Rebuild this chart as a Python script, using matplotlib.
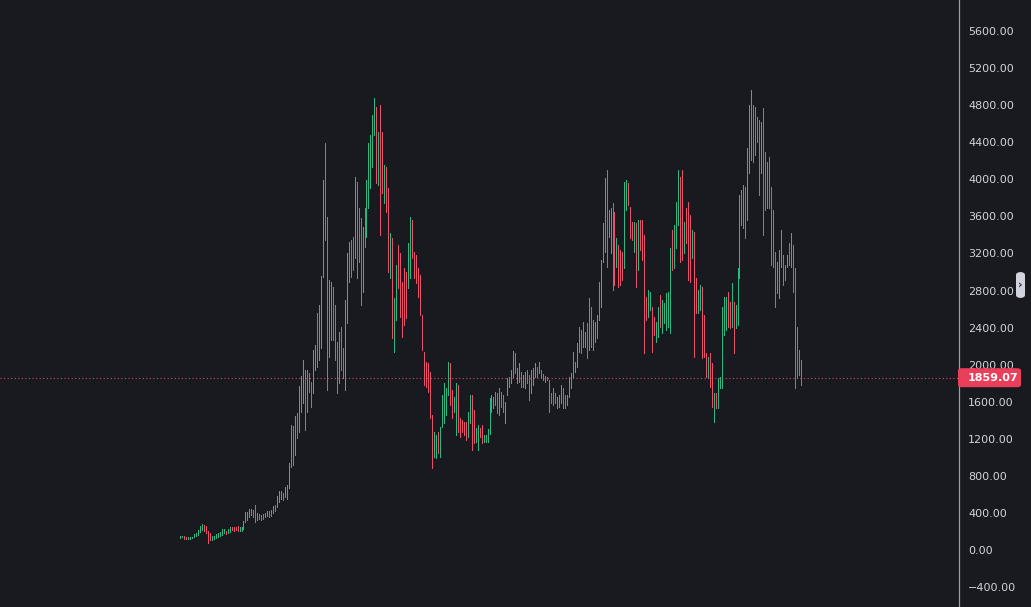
import numpy as np
import matplotlib
matplotlib.use("Agg")
import matplotlib.pyplot as plt
from matplotlib.patches import FancyBboxPatch

# ---------------- data ----------------
highs = [
    151,151,151,144,137,140,144,169,187,216, 259,281,266,259,209,187,151,151,173,187,
    198,223,227,209,223,252,252,252,248,259, 245,245,317,410,410,446,446,432,486,396,
    388,381,388,403,424,417,432,475,486,583, 633,640,611,683,
    701,935,1349,1333,1446,1482,1770,1877,2050,1942, 1942,1906,1816,2158,2212,2561,2644,2956,3992,4388,
    3597,2913,2895,2841,2644,2248,2356,2410,2176,2698, 3201,3327,3345,3381,4028,3974,3687,3579,3489,3687,
    3992,4388,4478,4694,4874,4784,4514,4802,4514,
    4154,4136,3902,3417,3363,2715,3075,3291,3201,2895, 3039,3003,3309,3597,3561,3219,3183,3039,2967,2536,
    2140,2032,2014,1924,1457,1277,1241,1277,1331,1672, 1798,1744,2032,2014,1726,1654,1798,1780,1421,1403,
    1385,1385,1493,1672,1672,1511,1313,1349,1313,1349, 1241,1241,1310,
    1637,1672,1654,1708,1690,1744,1708,1672,1600,1852, 1870,1942,2147,2122,1960,2014,1924,1888,1924,1942,
    1888,1942,1960,2014,1978,2032,1942,1895,1881,1870, 1834,1690,1744,1690,1654,1672,1780,1744,1672,1672,
    1870,1906,2140,2032,2230,2410,2374,2464,2356,2446, 2715,
    2626,2482,2464,2536,2895,3129,3525,4010,4100,3669, 3687,3741,3651,3363,3291,3237,3219,3974,3992,3956,
    3705,3543,3543,3525,3561,3561,3561,3399,2733,2805, 2787,2626,2518,2464,2626,2751,2698,2662,2769,2787,
    3255,3453,3507,3759,4100,4028,4100,3543,3687,3759, 3615,
    3453,3435,2931,2805,2859,2841,2536,2122,2086,2122, 2014,1690,1690,1852,1870,2626,2733,2733,2787,2680,
    2877,2680,2644,3039,3831,3885,3938,3920,4334,4802, 4963,4802,4784,4676,4640,4622,4766,4298,4190,4244,
    3920,3669,3219,3111,3237,3453,3183,3075,3183,3309, 3417,3291,3039,2410,2158,2050,
]
lows = [
    126,137,122,115,122,122,130,137,151,162, 194,216,209,187,79,108,108,115,126,144,
    151,165,180,173,180,194,216,209,216,209, 209,209,223,302,324,352,374,360,306,324,
    338,324,338,352,367,352,367,396,424,468, 522,554,540,576,
    547,665,899,917,1025,1205,1277,1493,1583,1295, 1493,1708,1547,1690,1942,1978,2050,2176,2949,3345,
    1726,2086,2266,2266,2050,1690,1798,1942,1852,1726, 2446,2895,2949,3021,3147,2931,3111,2644,2787,3273,
    3381,3687,3902,4136,4478,3956,3938,3399,3849,
    3741,3651,3003,2931,2284,2140,2482,2823,2518,2302, 2428,2500,2823,2931,3147,2931,2877,2733,2536,2158,
    1780,1762,1708,1420,881,1007,989,1043,1007,1331, 1367,1457,1672,1565,1421,1493,1241,1277,1223,1277,
    1241,1187,1223,1367,1079,1151,1169,1079,1223,1151, 1169,1169,1160,
    1250,1493,1529,1565,1475,1457,1547,1493,1374,1672, 1762,1798,1870,1906,1798,1816,1762,1762,1744,1798,
    1619,1691,1780,1870,1870,1906,1870,1834,1816,1834, 1493,1582,1565,1582,1529,1547,1582,1529,1529,1565,
    1654,1744,1870,1924,1978,2140,2122,2194,2194,2068, 2158,
    2194,2158,2248,2284,2482,2626,3111,3219,3057,3381, 3201,2805,2859,3057,2841,2859,2913,3039,3669,3723,
    3363,3345,3219,2841,3021,3237,3129,2122,2482,2518, 2590,2140,2320,2248,2302,2410,2338,2446,2374,2410,
    2338,3021,3039,3255,3507,3111,3129,3201,3309,2913, 2895,
    3147,2086,2554,2554,2590,2068,2086,1870,1852,1762, 1547,1385,1529,1529,1744,1744,2320,2374,2410,2392,
    2410,2122,2392,2428,2931,3507,3471,3363,3560,4064, 4208,4190,4262,4406,3831,4064,3399,3669,3687,3687,
    3075,3057,2626,2769,2715,3057,2859,2913,3057,3075, 3057,2787,1744,1870,1888,1780,
]
direction = list(
    "GGRRGGGGGG" "GGRRR" "RGGGG" "GGGRG" "GRRRR" "GGGGG" "GGRRG" "RRRGG" "RGGRG" "GGRG"
    "GGGRGRGGGR" "GRRGGRGGGR" "RGGRRRGRRG" "GGRRGRRRGR" "GGGGGRGRR"
    "GRRGRGGRRR" "RRGGRRRRRR" "RRRRRGGRGG" "GGGRRGGRRR" "RRGGRRGGRR" "GGG"
    "GGGRRGRRGG" "GGGRGGRGGR" "RGGGRGRRRR" "RRRRGGGRRG" "GGGGGGRGGR" "G"
    "RGGGGGGGRG" "GRRGRRRGGR" "RRGRGRRRRG" "GRRGGRGGGG" "GRGGGRRGRR" "R"
    "GRRGGRRRGR" "RGRGGGGGRR" "GRGGGGGRGG" "GRRRRGRRGR" "RRRGGGRRGR" "GRRRRR"
)
last_price = 1859.07
tick_values = list(range(-400, 5601, 400))
tick_labels = [f"{v:.2f}".replace("-", "\u2212") for v in tick_values]

# ---------------- style ----------------
BG = "#181a1f"
GREEN = "#2bb884"
RED = "#e8516b"
LABEL_RED = "#ea3f5b"
TXT = "#d1d4dc"
AXLINE = "#9a9da6"

W, H = 1031, 607
fig = plt.figure(figsize=(W / 100, H / 100), dpi=100, facecolor=BG)
ax_right_px = 959
ax = fig.add_axes([0, 0, ax_right_px / W, 1])
ax.set_facecolor(BG)

n = len(highs)
x = np.arange(n)
cols = [GREEN if d == "G" else RED for d in direction[:n]]
ax.vlines(x, lows[:n], highs[:n], colors=cols, linewidth=0.72, antialiased=False)

# last price dotted line
ax.axhline(last_price, color=RED, linewidth=0.8, linestyle=(0, (1, 2.2)), alpha=0.9)

# limits (pixel mapping)
spacing = 1.984
x0_px = 180
ax.set_xlim(-x0_px / spacing, (ax_right_px - x0_px) / spacing)
k = 10.79  # value per pixel
ax.set_ylim(-(H - 550) * k, 550 * k)

for s in ["top", "left", "bottom"]:
    ax.spines[s].set_visible(False)
ax.spines["right"].set_color(AXLINE)
ax.spines["right"].set_linewidth(0.9)
ax.set_xticks([])
ax.yaxis.tick_right()
ax.set_yticks(tick_values)
ax.set_yticklabels(tick_labels)
ax.tick_params(axis="y", length=0, pad=6.5, labelsize=8, labelcolor=TXT)

# price label on axis
y_px = 550 - last_price / k
box_h = 19
fig.patches.append(FancyBboxPatch(
    (958 / W, (H - y_px - box_h / 2) / H), 63 / W, box_h / H,
    boxstyle="round,pad=0,rounding_size=0.004", transform=fig.transFigure,
    facecolor=LABEL_RED, edgecolor="none", zorder=5))
fig.text(968 / W, (H - y_px) / H, f"{last_price:.2f}", color="white",
         fontsize=8, fontweight="bold", ha="left", va="center", zorder=6)

# small scroll button
fig.patches.append(FancyBboxPatch(
    (1016 / W, (H - 298) / H), 9 / W, 26 / H,
    boxstyle="round,pad=0,rounding_size=0.005", transform=fig.transFigure,
    facecolor="#d1d4dc", edgecolor="none", zorder=5))
fig.text(1020.5 / W, (H - 285) / H, "\u203a", color="#2a2e39", fontsize=8,
         fontweight="bold", ha="center", va="center", zorder=6)

fig.savefig("out.png", dpi=100, facecolor=BG)
